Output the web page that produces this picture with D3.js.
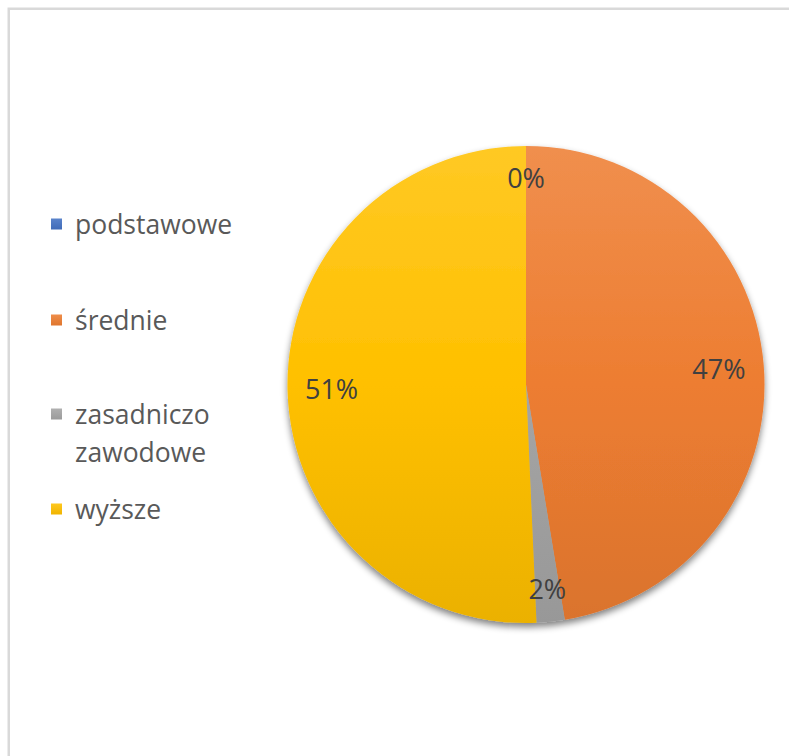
<!DOCTYPE html>
<html><head><meta charset="utf-8">
<script src="https://cdn.jsdelivr.net/npm/d3@7"></script>
<style>html,body{margin:0;padding:0;background:#fff;}svg{display:block;}</style>
</head><body>
<svg id="chart" width="789" height="756"></svg>
<script>
const categories = ["podstawowe", "średnie", "zasadniczo zawodowe", "wyższe"];
const legendLines = [["podstawowe"], ["średnie"], ["zasadniczo", "zawodowe"], ["wyższe"]];
const values = [0.0, 47.4, 1.9, 50.7];
const colors = ["#4472C4", "#ED7D31", "#A5A5A5", "#FFC000"];

const svg = d3.select("#chart");
const W = 789, H = 756;
svg.append("rect").attr("width", W).attr("height", H).attr("fill", "#fff");
svg.append("rect").attr("x", 8.75).attr("y", 8.75).attr("width", 900).attr("height", 900)
  .attr("fill", "none").attr("stroke", "#d9d9d9").attr("stroke-width", 2.5);

const defs = svg.append("defs");
const filt = defs.append("filter").attr("id", "shadow").attr("x", "-20%").attr("y", "-20%").attr("width", "140%").attr("height", "140%");
filt.append("feGaussianBlur").attr("in", "SourceAlpha").attr("stdDeviation", 3.5).attr("result", "b");
filt.append("feOffset").attr("in", "b").attr("dx", 0).attr("dy", 4).attr("result", "o");
filt.append("feComponentTransfer").attr("in", "o").attr("result", "s").append("feFuncA").attr("type", "linear").attr("slope", 0.5);
const fm = filt.append("feMerge");
fm.append("feMergeNode").attr("in", "s");
fm.append("feMergeNode").attr("in", "SourceGraphic");

const mix = (a, b, t) => d3.color(d3.interpolateRgb(a, b)(t)).formatHex();
colors.forEach((c, i) => {
  const g = defs.append("linearGradient").attr("id", "g" + i)
    .attr("gradientUnits", "userSpaceOnUse")
    .attr("x1", 0).attr("y1", -240).attr("x2", 0).attr("y2", 240);
  g.append("stop").attr("offset", 0).attr("stop-color", mix(c, "#ffffff", 0.14));
  g.append("stop").attr("offset", 0.5).attr("stop-color", c);
  g.append("stop").attr("offset", 1).attr("stop-color", mix(c, "#000000", 0.08));
  const lg = defs.append("linearGradient").attr("id", "lg" + i).attr("x1", 0).attr("y1", 0).attr("x2", 0).attr("y2", 1);
  lg.append("stop").attr("offset", 0).attr("stop-color", mix(c, "#ffffff", 0.12));
  lg.append("stop").attr("offset", 1).attr("stop-color", mix(c, "#000000", 0.06));
});

const cx = 526, cy = 384.5, R = 238.5;
const pie = d3.pie().sort(null).value(d => d)(values);
const arc = d3.arc().innerRadius(0).outerRadius(R);

const gPie = svg.append("g").attr("transform", `translate(${cx},${cy})`);
const gSlices = gPie.append("g").attr("filter", "url(#shadow)");
gSlices.selectAll("path").data(pie).join("path")
  .attr("d", arc).attr("fill", (d, i) => `url(#g${i})`);

const total = d3.sum(values);
const cornerR = R * 0.93;
gPie.selectAll("text.lbl").data(pie).join("text").attr("class", "lbl")
  .attr("text-anchor", "middle").attr("dominant-baseline", "central")
  .attr("font-family", "'Open Sans', sans-serif").attr("font-size", 27).attr("fill", "#404040")
  .text(d => Math.round(d.data / total * 100) + "%")
  .each(function(d) {
    const bb = this.getBBox();
    const hw = bb.width / 2, hh = 13.5;
    const a = (d.startAngle + d.endAngle) / 2;
    const ux = Math.sin(a), uy = -Math.cos(a);
    let dist = 0;
    for (let t = 0; t < R; t += 0.5) {
      const px = t * ux + Math.sign(ux || 1) * hw * (Math.abs(ux) > 0.05 ? 1 : 1);
      const py = t * uy + Math.sign(uy || 1) * hh;
      if (Math.hypot(px, py) > cornerR) break;
      dist = t;
    }
    d3.select(this).attr("transform", `translate(${dist * ux},${dist * uy})`);
  });

const legendY = [224, 320, 414, 509];
const lgG = svg.append("g");
legendLines.forEach((lines, i) => {
  lgG.append("rect").attr("x", 51).attr("y", legendY[i] - 5.5).attr("width", 11).attr("height", 11)
    .attr("fill", `url(#lg${i})`);
  const t = lgG.append("text").attr("x", 75).attr("y", legendY[i])
    .attr("dominant-baseline", "central")
    .attr("font-family", "'Open Sans', sans-serif").attr("font-size", 26.5).attr("fill", "#595959");
  lines.forEach((ln, j) => {
    t.append("tspan").attr("x", 75).attr("dy", j === 0 ? 0 : 38).text(ln);
  });
});
</script>
</body></html>
